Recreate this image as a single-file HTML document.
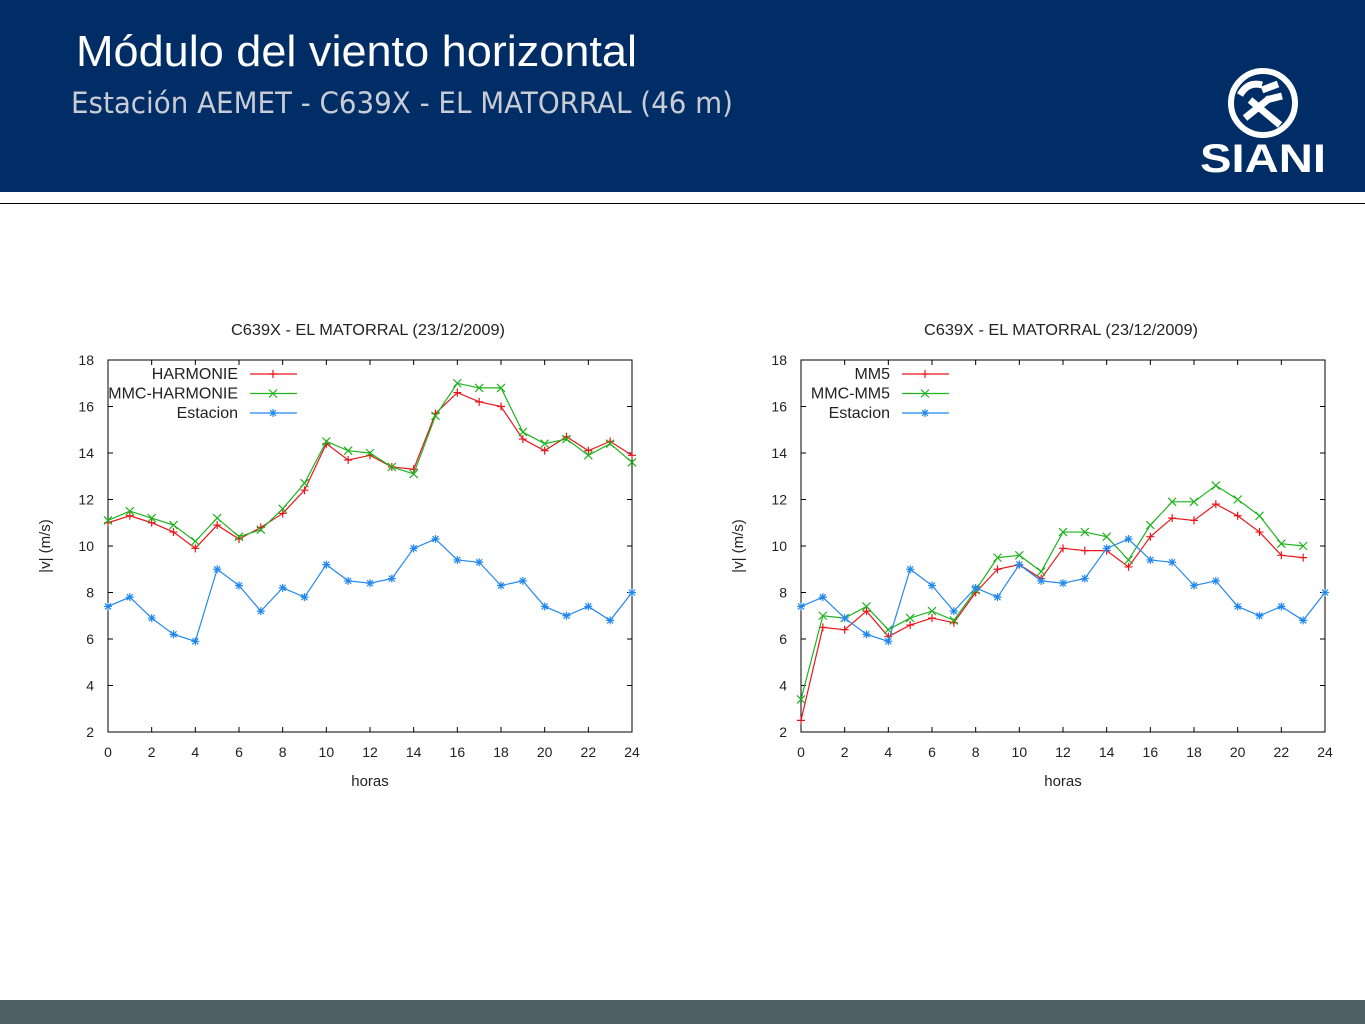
<!DOCTYPE html>
<html><head><meta charset="utf-8"><style>
body{margin:0;width:1365px;height:1024px;overflow:hidden;background:#fff;font-family:"Liberation Sans",sans-serif}
#hdr{position:absolute;left:0;top:0;width:1365px;height:192px;background:#002d66}
#rule{position:absolute;left:0;top:203px;width:1365px;height:1px;background:#000}
#foot{position:absolute;left:0;top:1000px;width:1365px;height:24px;background:#505f66}
</style></head><body>
<div id="hdr"></div>
<div id="rule"></div>
<div id="foot"></div>
<svg width="1365" height="1024" style="position:absolute;left:0;top:0" id="svg">
<text x="76" y="66" font-size="44" fill="#fff" textLength="561" lengthAdjust="spacingAndGlyphs">Módulo del viento horizontal</text>
<text x="71" y="113" font-size="29" fill="#c8ccd4" font-family="DejaVu Sans, sans-serif" textLength="662" lengthAdjust="spacingAndGlyphs">Estación AEMET - C639X - EL MATORRAL (46 m)</text>
<g>
<circle cx="1263" cy="103" r="32" fill="none" stroke="#fff" stroke-width="6"/>
<path d="M1240 95 q8-14 22-10 M1250 100 l30 25 M1262 90 l16-6 M1266 100 l16-4 M1245 118 l25-20" stroke="#fff" stroke-width="7" fill="none"/>
<text x="1263" y="172" font-size="40" font-weight="bold" fill="#fff" text-anchor="middle" textLength="126" lengthAdjust="spacingAndGlyphs">SIANI</text>
</g>
<g id="c1"></g>
<g id="c2"></g>
</svg>
<script>
const hours = [0,1,2,3,4,5,6,7,8,9,10,11,12,13,14,15,16,17,18,19,20,21,22,23,24];
const harmonie = [11.0,11.3,11.0,10.6,9.9,10.9,10.3,10.8,11.4,12.4,14.4,13.7,13.9,13.4,13.3,15.7,16.6,16.2,16.0,14.6,14.1,14.7,14.1,14.5,13.9];
const mmcHarmonie = [11.1,11.5,11.2,10.9,10.2,11.2,10.4,10.7,11.6,12.7,14.5,14.1,14.0,13.4,13.1,15.6,17.0,16.8,16.8,14.9,14.4,14.6,13.9,14.4,13.6];
const estacion = [7.4,7.8,6.9,6.2,5.9,9.0,8.3,7.2,8.2,7.8,9.2,8.5,8.4,8.6,9.9,10.3,9.4,9.3,8.3,8.5,7.4,7.0,7.4,6.8,8.0];
const mm5 = [2.5,6.5,6.4,7.2,6.1,6.6,6.9,6.7,8.0,9.0,9.2,8.6,9.9,9.8,9.8,9.1,10.4,11.2,11.1,11.8,11.3,10.6,9.6,9.5];
const mmcMm5 = [3.4,7.0,6.9,7.4,6.4,6.9,7.2,6.8,8.1,9.5,9.6,8.9,10.6,10.6,10.4,9.4,10.9,11.9,11.9,12.6,12.0,11.3,10.1,10.0];
const xTicks = [0,2,4,6,8,10,12,14,16,18,20,22,24];
const yTicks = [2,4,6,8,10,12,14,16,18];
const NS="http://www.w3.org/2000/svg";
function mk(p,tag,a,txt){const e=document.createElementNS(NS,tag);for(const k in a)e.setAttribute(k,a[k]);if(txt!==undefined)e.textContent=txt;p.appendChild(e);return e;}
function marker(g,type,x,y,c){
  const s=4;let d;
  if(type==='+')d=`M${x-s} ${y}H${x+s}M${x} ${y-s}V${y+s}`;
  else if(type==='x')d=`M${x-s} ${y-s}L${x+s} ${y+s}M${x-s} ${y+s}L${x+s} ${y-s}`;
  else d=`M${x-s} ${y}H${x+s}M${x} ${y-s}V${y+s}M${x-3} ${y-3}L${x+3} ${y+3}M${x-3} ${y+3}L${x+3} ${y-3}`;
  return mk(g,'path',{d:d,stroke:c,'stroke-width':1.2,fill:'none'});
}
function chart(gid,L,LX,series){
  const g=document.getElementById(gid);
  const T=360,B=732,R=L+524;
  const X=v=>L+(v/24)*(R-L), Y=v=>B-(v-2)/16*(B-T);
  let t=mk(g,'text',{x:L+123,y:335,'font-size':16,fill:'#222',textLength:274,lengthAdjust:'spacingAndGlyphs'},'C639X - EL MATORRAL (23/12/2009)');
  
  mk(g,'rect',{x:L,y:T,width:R-L,height:B-T,fill:'none',stroke:'#000','stroke-width':1});
  xTicks.forEach(v=>{mk(g,'path',{d:`M${X(v)} ${B}v-5M${X(v)} ${T}v5`,stroke:'#000'});
    const e=mk(g,'text',{x:X(v),y:B+25,'font-size':14,fill:'#222','text-anchor':'middle'},v);
    });
  yTicks.forEach(v=>{mk(g,'path',{d:`M${L} ${Y(v)}h5M${R} ${Y(v)}h-5`,stroke:'#000'});
    const e=mk(g,'text',{x:L-14,y:Y(v)+5,'font-size':14,fill:'#222','text-anchor':'end'},v);
    });
  let xt=mk(g,'text',{x:(L+R)/2,y:786,'font-size':15,fill:'#222','text-anchor':'middle'},'horas');
  
  let yt=mk(g,'text',{x:0,y:0,'font-size':15,fill:'#222','text-anchor':'middle',transform:`translate(${L-58},${(T+B)/2}) rotate(-90)`},'|v| (m/s)');
  
  series.forEach((s,i)=>{
    const sg=mk(g,'g',{});
    
    mk(sg,'polyline',{points:s.data.map((v,j)=>X(hours[j])+','+Y(v)).join(' '),fill:'none',stroke:s.c,'stroke-width':1.2});
    s.data.forEach((v,j)=>{const m=marker(sg,s.m,X(hours[j]),Y(v),s.c);
      });
    const ly=374+i*19.5;
    const lg=mk(g,'g',{});
    
    mk(lg,'text',{x:LX,y:ly+5,'font-size':16,fill:'#222','text-anchor':'end'},s.label);
    mk(lg,'path',{d:`M${LX+12} ${ly}H${LX+59}`,stroke:s.c,'stroke-width':1.2});
    marker(lg,s.m,LX+35,ly,s.c);
  });
}
chart('c1',108,238,[{key:'harmonie',label:'HARMONIE',data:harmonie,c:'#e8161b',m:'+'},
  {key:'mmc-harmonie',label:'MMC-HARMONIE',data:mmcHarmonie,c:'#1fb31f',m:'x'},
  {key:'estacion',label:'Estacion',data:estacion,c:'#2288ee',m:'*'}]);
chart('c2',801,890,[{key:'mm5',label:'MM5',data:mm5,c:'#e8161b',m:'+'},
  {key:'mmc-mm5',label:'MMC-MM5',data:mmcMm5,c:'#1fb31f',m:'x'},
  {key:'estacion',label:'Estacion',data:estacion,c:'#2288ee',m:'*'}]);
</script>
</body></html>
